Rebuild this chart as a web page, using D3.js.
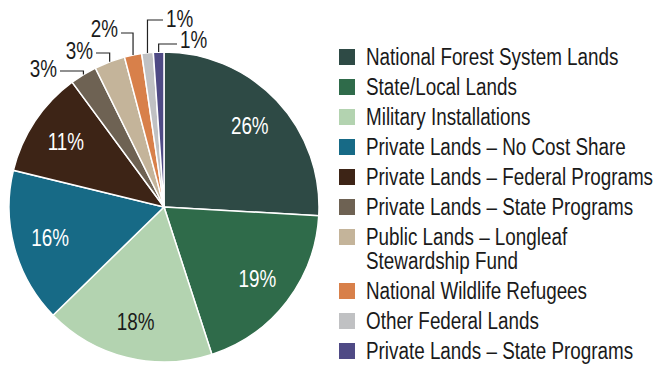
<!DOCTYPE html>
<html><head><meta charset="utf-8">
<script src="https://cdn.jsdelivr.net/npm/d3@7"></script>
<style>
body{margin:0;background:#fff;}
text{font-family:"Liberation Sans",Arial,sans-serif;}
</style></head>
<body><svg id="c" width="654" height="366"></svg>
<script>
const categories = ["National Forest System Lands","State/Local Lands","Military Installations","Private Lands – No Cost Share","Private Lands – Federal Programs","Private Lands – State Programs","Public Lands – Longleaf Stewardship Fund","National Wildlife Refugees","Other Federal Lands","Private Lands – State Programs"];
const values = [25.9,19.1,17.7,16.1,11.1,2.8,3.2,1.8,1.2,1.1];
const labels = ["26%","19%","18%","16%","11%","3%","3%","2%","1%","1%"];
const colors = ["#2e4a45","#2f6b4a","#b3d3b0","#176a86","#3d2416","#6e6253","#c4b49a","#d8804a","#c0c1c3","#4f4a85"];
const legendLines = [["National Forest System Lands"],["State/Local Lands"],["Military Installations"],["Private Lands – No Cost Share"],["Private Lands – Federal Programs"],["Private Lands – State Programs"],["Public Lands – Longleaf","Stewardship Fund"],["National Wildlife Refugees"],["Other Federal Lands"],["Private Lands – State Programs"]];
// outside label layout (index -> elbow y, horizontal end x, side)
const outside = {5:{ey:71,ex:60,side:-1,dy:6},6:{ey:53,ex:96,side:-1,dy:6},7:{ey:33,ex:121,side:-1,dy:4},8:{ey:20,ex:163,side:1,dy:7},9:{ey:44,ex:177,side:1,dy:4}};

const svg = d3.select("#c");
const cx=164, cy=207, R=155, fs=23, sx=0.82;
const g = svg.append("g").attr("transform",`translate(${cx},${cy})`);
const pie = d3.pie().sort(null).value(d=>d)(values);
const arc = d3.arc().innerRadius(0).outerRadius(R);
const labArc = d3.arc().innerRadius(118).outerRadius(118);
g.selectAll("path").data(pie).join("path")
 .attr("d",arc).attr("fill",(d,i)=>colors[i]).attr("stroke","#fff").attr("stroke-width",1.5);
g.selectAll("text.in").data(pie.filter((d,i)=>i<5)).join("text").attr("class","in")
 .attr("transform",d=>`translate(${labArc.centroid(d)}) scale(${sx},1)`)
 .attr("text-anchor","middle").attr("dy","0.36em").attr("font-size",fs)
 .attr("fill",(d,i)=>i===2?"#1a1a1a":"#fff").text((d,i)=>labels[i]);
pie.forEach((d,i)=>{
  const o = outside[i]; if(!o) return;
  const a=(d.startAngle+d.endAngle)/2;
  const x0=R*Math.sin(a)+cx, y0=-R*Math.cos(a)+cy;
  svg.append("path").attr("d",`M${x0},${y0}V${o.ey}H${o.ex}`).attr("fill","none").attr("stroke","#222").attr("stroke-width",1.2);
  svg.append("text").attr("transform",`translate(${o.ex+o.side*3},${o.ey+o.dy}) scale(${sx},1)`).attr("text-anchor",o.side<0?"end":"start")
   .attr("font-size",fs).attr("fill","#1a1a1a").text(labels[i]);
});
// legend
let y=57;
const lg=svg.append("g");
legendLines.forEach((lines,i)=>{
  lg.append("rect").attr("x",339).attr("y",y-8).attr("width",16).attr("height",16).attr("fill",colors[i]);
  const t=lg.append("text").attr("transform",`translate(366,${y+8}) scale(${sx},1)`).attr("font-size",fs).attr("fill","#1a1a1a");
  lines.forEach((l,j)=>t.append("tspan").attr("x",0).attr("dy",j?24:0).text(l));
  y+=30+(lines.length-1)*24;
});
</script></body></html>
